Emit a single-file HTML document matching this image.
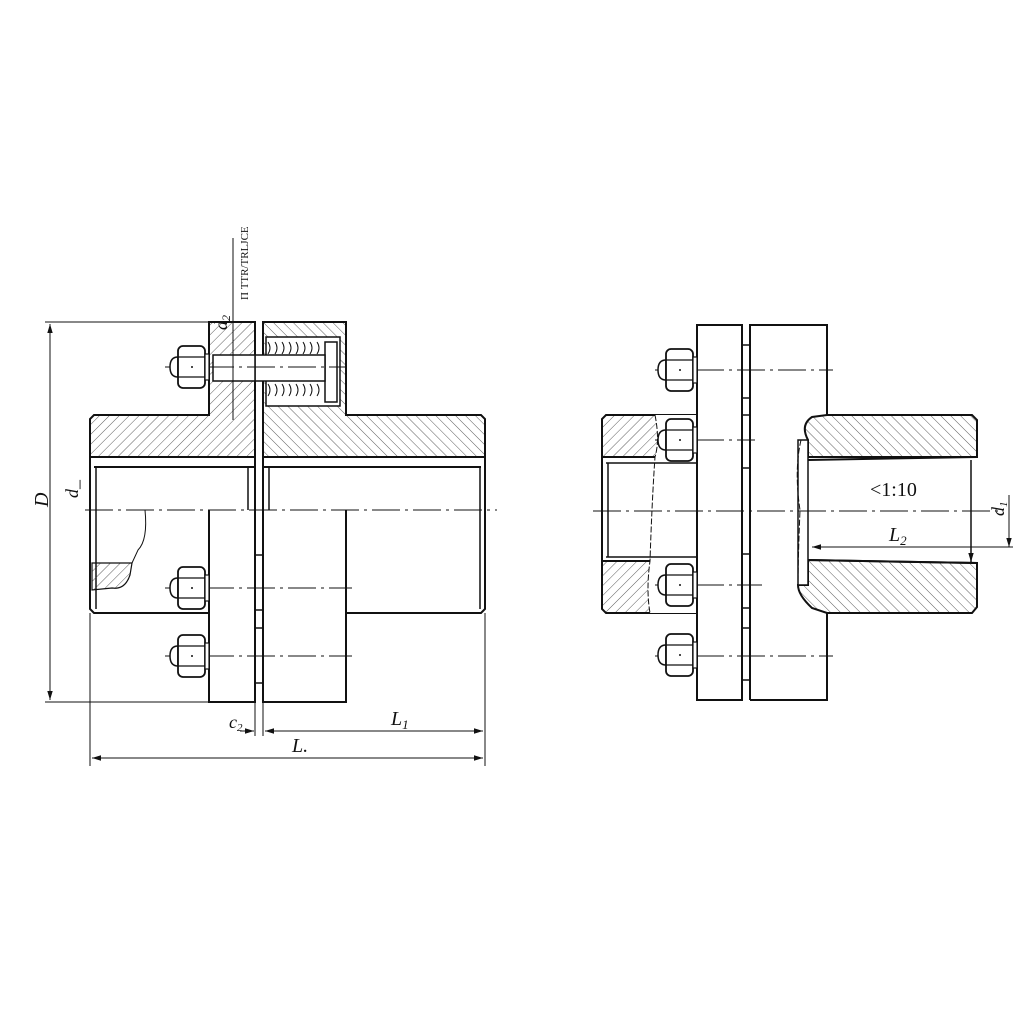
<!DOCTYPE html>
<html><head><meta charset="utf-8"><style>
html,body{margin:0;padding:0;background:#fff;}
svg{display:block;}
text{font-family:"Liberation Serif",serif;fill:#111;}
</style></head><body>
<svg width="1024" height="1024" viewBox="0 0 1024 1024" xmlns="http://www.w3.org/2000/svg">
<defs>
<pattern id="h1" width="7" height="7" patternUnits="userSpaceOnUse" patternTransform="rotate(45)">
<line x1="0" y1="0" x2="0" y2="7" stroke="#333" stroke-width="0.8"/></pattern>
<pattern id="h2" width="7" height="7" patternUnits="userSpaceOnUse" patternTransform="rotate(-45)">
<line x1="0" y1="0" x2="0" y2="7" stroke="#333" stroke-width="0.8"/></pattern>
<marker id="ar" viewBox="0 0 10 10" refX="10" refY="5" markerWidth="9" markerHeight="9" orient="auto-start-reverse" markerUnits="userSpaceOnUse">
<path d="M0,2 L10,5 L0,8 Z" fill="#111"/></marker>
<g id="nut">
<path d="M-14,-10 Q-22,-10 -22,0 Q-22,10 -14,10 Z" fill="#fff" stroke="#111" stroke-width="1.5"/>
<rect x="-14" y="-21" width="27" height="42" rx="5" fill="#fff" stroke="#111" stroke-width="1.8"/>
<line x1="-14" y1="-10" x2="13" y2="-10" stroke="#111" stroke-width="1.2"/>
<line x1="-14" y1="10" x2="13" y2="10" stroke="#111" stroke-width="1.2"/>
<rect x="13" y="-13" width="4" height="26" fill="#fff" stroke="#111" stroke-width="1.2"/>
<circle cx="0" cy="0" r="1" fill="#111"/>
</g>
</defs>
<g stroke="#111" stroke-width="2" fill="none">
<!-- ============ LEFT VIEW ============ -->
<!-- left hub hatched top band -->
<path d="M94,415 L209,415 L209,322 L255,322 L255,457 L90,457 L90,419 Z" fill="url(#h1)"/>
<!-- right flange top + right hub band -->
<path d="M263,322 L346,322 L346,415 L481,415 L485,419 L485,457 L263,457 Z" fill="url(#h2)"/>
<!-- spring pocket -->
<rect x="266" y="337" width="74" height="69" fill="#fff" stroke-width="1.5"/>
<rect x="325" y="342" width="12" height="60" fill="#fff" stroke-width="1.5"/>
<rect x="255" y="355" width="70" height="26" fill="#fff" stroke-width="1.5"/>
<rect x="213" y="355" width="42" height="26" fill="#fff" stroke-width="1.5"/>
<path d="M268,342 q4,6 0,12 M275,342 q4,6 0,12 M282,342 q4,6 0,12 M289,342 q4,6 0,12 M296,342 q4,6 0,12 M303,342 q4,6 0,12 M310,342 q4,6 0,12 M317,342 q4,6 0,12" stroke-width="1"/>
<path d="M268,384 q4,6 0,12 M275,384 q4,6 0,12 M282,384 q4,6 0,12 M289,384 q4,6 0,12 M296,384 q4,6 0,12 M303,384 q4,6 0,12 M310,384 q4,6 0,12 M317,384 q4,6 0,12" stroke-width="1"/>
<!-- hub body lines -->
<line x1="90" y1="457" x2="255" y2="457"/>
<line x1="94" y1="467" x2="255" y2="467"/>
<line x1="263" y1="457" x2="485" y2="457"/>
<line x1="263" y1="467" x2="481" y2="467"/>
<path d="M90,457 L90,609 L94,613 L209,613"/>
<line x1="96" y1="467" x2="96" y2="609" stroke-width="1.5"/>
<path d="M346,613 L481,613 L485,609 L485,457"/>
<line x1="480" y1="467" x2="480" y2="609" stroke-width="1.5"/>
<line x1="248" y1="467" x2="248" y2="510" stroke-width="1.5"/>
<line x1="269" y1="467" x2="269" y2="510" stroke-width="1.5"/>
<!-- flanges lower -->
<path d="M209,510 L209,702 L255,702 L255,457"/>
<path d="M263,457 L263,702 L346,702 L346,510"/>
<!-- hatched broken corner -->
<path d="M92,563 L132,563 L130,575 Q125,590 112,588 L92,590 Z" fill="url(#h1)" stroke-width="1.2"/>
<path d="M145,510 Q148,540 138,550 L132,563" stroke-width="1"/>
<!-- gap small rects -->
<path d="M255,555 L263,555 M255,610 L263,610 M255,628 L263,628 M255,683 L263,683" stroke-width="1.5"/>
<!-- centerlines -->
<g stroke-width="1" stroke-dasharray="28,5,3,5">
<line x1="85" y1="510" x2="497" y2="510"/>
<line x1="165" y1="367" x2="345" y2="367"/>
<line x1="165" y1="588" x2="352" y2="588"/>
<line x1="165" y1="656" x2="352" y2="656"/>
</g>
<!-- d2 vertical -->
<line x1="233" y1="238" x2="233" y2="420" stroke-width="1"/>
<!-- dimension lines -->
<g stroke-width="1">
<line x1="45" y1="322" x2="209" y2="322"/>
<line x1="45" y1="702" x2="209" y2="702"/>
<line x1="50" y1="324" x2="50" y2="700" marker-start="url(#ar)" marker-end="url(#ar)"/>
<line x1="90" y1="613" x2="90" y2="766"/>
<line x1="485" y1="613" x2="485" y2="766"/>
<line x1="255" y1="702" x2="255" y2="736"/>
<line x1="263" y1="702" x2="263" y2="736"/>
<line x1="265" y1="731" x2="483" y2="731" marker-start="url(#ar)" marker-end="url(#ar)"/>
<line x1="240" y1="731" x2="254" y2="731" marker-end="url(#ar)"/>
<line x1="92" y1="758" x2="483" y2="758" marker-start="url(#ar)" marker-end="url(#ar)"/>
</g>
</g>
<use href="#nut" x="192" y="367"/>
<use href="#nut" x="192" y="588"/>
<use href="#nut" x="192" y="656"/>
<text x="0" y="0" font-size="20" font-style="italic" transform="translate(48,507) rotate(-90)">D</text>
<text x="0" y="0" font-size="18" font-style="italic" transform="translate(78,498) rotate(-90)">d_</text>
<text x="0" y="0" font-size="18" font-style="italic" transform="translate(227,330) rotate(-90)">d<tspan font-size="12" dy="3">2</tspan></text>
<text x="0" y="0" font-size="11" transform="translate(248,300) rotate(-90)">Π TTR/TRLJCE</text>
<text x="391" y="725" font-size="20" font-style="italic">L<tspan font-size="13" dy="4">1</tspan></text>
<text x="229" y="728" font-size="18" font-style="italic">c<tspan font-size="11" dy="3">2</tspan></text>
<text x="292" y="752" font-size="20" font-style="italic">L.</text>

<!-- ============ RIGHT VIEW ============ -->
<g stroke="#111" stroke-width="2" fill="none">
<path d="M606,415 L697,415 L697,457 L602,457 L602,419 Z" fill="url(#h1)"/>
<path d="M602,561 L697,561 L697,613 L606,613 L602,609 Z" fill="url(#h1)"/>
<path d="M655,415 Q660,440 655,457 Q652,500 650,561 Q646,590 650,613 L697,613 L697,415 Z" fill="#fff" stroke="none"/>
<path d="M655,415 Q660,440 655,457 Q652,500 650,561 Q646,590 650,613" stroke-width="1" stroke-dasharray="6,2"/>
<line x1="602" y1="457" x2="602" y2="561"/>
<line x1="606" y1="463" x2="697" y2="463" stroke-width="1.5"/>
<line x1="606" y1="557" x2="697" y2="557" stroke-width="1.5"/>
<line x1="608" y1="463" x2="608" y2="557" stroke-width="1.5"/>
<!-- flanges -->
<rect x="697" y="325" width="45" height="375" fill="#fff"/>
<path d="M750,700 L750,325 L827,325 L827,415"/>
<path d="M827,613 L827,700 L750,700"/>
<!-- right hub -->
<path d="M827,415 L972,415 L977,420 L977,457 L808,457 L808,440 Q800,425 812,417 Z" fill="url(#h2)"/>
<path d="M808,560 L977,563 L977,607 L972,613 L827,613 L812,608 Q798,595 798,585 L808,585 Z" fill="url(#h2)"/>
<line x1="808" y1="460" x2="977" y2="457"/>
<line x1="808" y1="560" x2="977" y2="563"/>
<rect x="798" y="440" width="10" height="145" fill="#fff" stroke-width="1.5"/>
<line x1="971" y1="460" x2="971" y2="562" stroke-width="1.5"/>
<path d="M801,440 Q794,470 800,510 Q798,560 798,585" stroke-width="1" stroke-dasharray="6,2"/>
<!-- gap rects -->
<path d="M742,345 L750,345 M742,398 L750,398 M742,415 L750,415 M742,468 L750,468 M742,554 L750,554 M742,608 L750,608 M742,628 L750,628 M742,680 L750,680" stroke-width="1.5"/>
<g stroke-width="1" stroke-dasharray="28,5,3,5">
<line x1="593" y1="511" x2="1000" y2="511"/>
<line x1="655" y1="370" x2="833" y2="370"/>
<line x1="655" y1="440" x2="755" y2="440"/>
<line x1="655" y1="585" x2="762" y2="585"/>
<line x1="655" y1="656" x2="833" y2="656"/>
</g>
<g stroke-width="1">
<line x1="1013" y1="547" x2="812" y2="547" marker-end="url(#ar)"/>
<line x1="1009" y1="495" x2="1009" y2="547" marker-end="url(#ar)"/>
<line x1="971" y1="540" x2="971" y2="562" marker-end="url(#ar)"/>
</g>
</g>
<use href="#nut" x="680" y="370"/>
<use href="#nut" x="680" y="440"/>
<use href="#nut" x="680" y="585"/>
<use href="#nut" x="680" y="655"/>
<text x="870" y="496" font-size="20">&lt;1:10</text>
<text x="889" y="541" font-size="20" font-style="italic">L<tspan font-size="13" dy="4">2</tspan></text>
<text x="0" y="0" font-size="18" font-style="italic" transform="translate(1004,516) rotate(-90)">d<tspan font-size="11" dy="3">1</tspan></text>
</svg>
</body></html>
